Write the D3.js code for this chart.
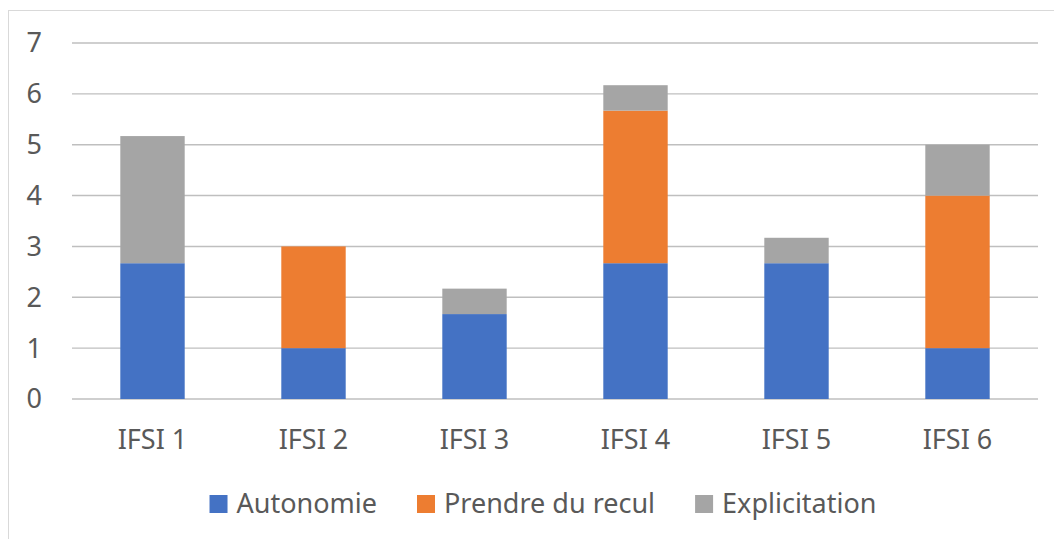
<!DOCTYPE html>
<html>
<head>
<meta charset="utf-8">
<script src="https://cdn.jsdelivr.net/npm/d3@7"></script>
<style>
  body { margin: 0; background: #fff; }
  text { font-family: "Noto Sans", sans-serif; fill: #595959; }
</style>
</head>
<body>
<svg id="chart" width="1054" height="539"></svg>
<script>
const categories = ["IFSI 1", "IFSI 2", "IFSI 3", "IFSI 4", "IFSI 5", "IFSI 6"];
const seriesNames = ["Autonomie", "Prendre du recul", "Explicitation"];
const autonomie = [2.67, 1, 1.67, 2.67, 2.67, 1];
const prendreRecul = [0, 2, 0, 3, 0, 3];
const explicitation = [2.5, 0, 0.5, 0.5, 0.5, 1];
const yTicks = [0, 1, 2, 3, 4, 5, 6, 7];
const colors = ["#4472C4", "#ED7D31", "#A5A5A5"];

const rows = categories.map((c, i) => ({
  cat: c,
  "Autonomie": autonomie[i],
  "Prendre du recul": prendreRecul[i],
  "Explicitation": explicitation[i]
}));

const svg = d3.select("#chart");

// outer chart border (runs off the right/bottom edge)
svg.append("rect")
  .attr("x", 8.5).attr("y", 10.5)
  .attr("width", 1060).attr("height", 540)
  .attr("fill", "none").attr("stroke", "#d9d9d9");

const margin = { top: 43, left: 72, right: 16, bottom: 140 };
const width = 1054 - margin.left - margin.right,
      height = 539 - margin.top - margin.bottom;

const g = svg.append("g").attr("transform", `translate(${margin.left},${margin.top})`);

const x = d3.scaleBand().domain(categories).range([0, width]);
const y = d3.scaleLinear().domain([0, 7]).range([height, 0]);

// gridlines
g.selectAll(".grid")
  .data(yTicks)
  .enter().append("line")
  .attr("x1", 0).attr("x2", width)
  .attr("y1", d => y(d)).attr("y2", d => y(d))
  .attr("stroke", "#bfbfbf").attr("stroke-width", 1.4);

// y labels
g.selectAll(".ylab")
  .data(yTicks)
  .enter().append("text")
  .attr("x", -30).attr("y", d => y(d))
  .attr("dy", "0.35em")
  .attr("text-anchor", "end")
  .style("font-size", "27px")
  .text(d => d);

// stacked bars
const stack = d3.stack().keys(seriesNames)(rows);
const barW = x.bandwidth() * 0.4;

g.selectAll(".layer")
  .data(stack)
  .enter().append("g")
  .attr("fill", (d, i) => colors[i])
  .selectAll("rect")
  .data(d => d)
  .enter().append("rect")
  .attr("x", d => x(d.data.cat) + (x.bandwidth() - barW) / 2)
  .attr("y", d => y(d[1]))
  .attr("width", barW)
  .attr("height", d => y(d[0]) - y(d[1]));

// x labels
g.selectAll(".xlab")
  .data(categories)
  .enter().append("text")
  .attr("x", d => x(d) + x.bandwidth() / 2)
  .attr("y", height + 50)
  .attr("text-anchor", "middle")
  .style("font-size", "27px")
  .text(d => d);

// legend
const legend = svg.append("g");
let lx = 0;
seriesNames.forEach((name, i) => {
  const item = legend.append("g").attr("transform", `translate(${lx},0)`);
  item.append("rect")
    .attr("x", 0).attr("y", -9)
    .attr("width", 18).attr("height", 18)
    .attr("fill", colors[i]);
  const t = item.append("text")
    .attr("x", 27).attr("y", 0).attr("dy", "0.35em")
    .style("font-size", "27px")
    .text(name);
  lx += 27 + t.node().getComputedTextLength() + 40;
});
const legW = lx - 40;
legend.attr("transform", `translate(${543 - legW / 2},504)`);
</script>
</body>
</html>
